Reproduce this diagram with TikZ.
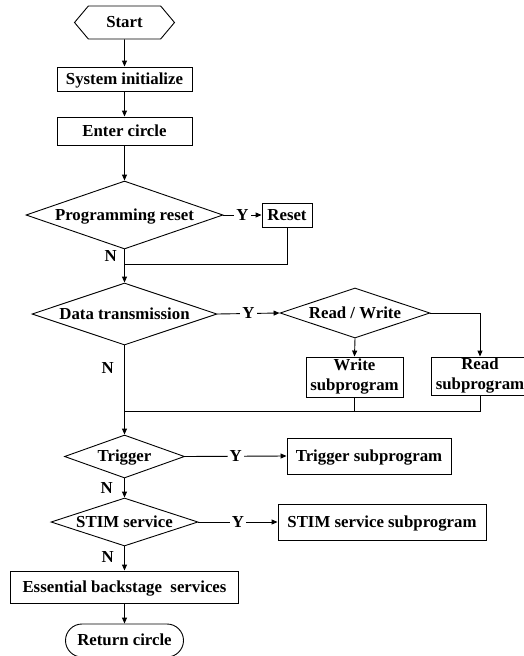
\documentclass[tikz,border=0pt]{standalone}
\usepackage{fontspec}
\setmainfont{Liberation Serif}
\usetikzlibrary{shapes.geometric,shapes.symbols,shapes.misc,arrows.meta}
\begin{document}
\begin{tikzpicture}[x=1pt,y=-1pt,
  every node/.style={font=\fontsize{16.8}{20}\selectfont\bfseries, inner sep=0pt},
  tl/.style={text height=11pt, text depth=0.5pt},
  box/.style={draw, line width=0.9pt, rectangle, tl},
  box2/.style={draw, line width=0.9pt, rectangle, align=center},
  dia/.style={draw, line width=0.9pt, diamond, tl},
  hexa/.style={draw, line width=0.9pt, signal, signal to=west and east, signal pointer angle=100, tl},
  stad/.style={draw, line width=0.9pt, rounded rectangle, tl},
  conn/.style={line width=0.9pt},
  arr/.style={line width=0.9pt, -{Triangle[length=6pt,width=5pt]}},
  lab/.style={fill=white, inner xsep=2pt, tl},
  nlab/.style={anchor=east, tl}
]
\useasboundingbox (0,0) rectangle (523,656);
\node[hexa, minimum width=100pt, minimum height=33pt] (start) at (124.5,22.5) {Start};
\node[box, minimum width=135pt, minimum height=24pt] (sys) at (124.5,79) {System initialize};
\node[box, minimum width=135pt, minimum height=28pt] (enter) at (124.5,131) {Enter circle};
\node[dia, minimum width=197pt, minimum height=68pt, aspect=2.9] (prog) at (124.5,215) {Programming reset};
\node[box, minimum width=50pt, minimum height=24pt] (reset) at (287,215) {Reset};
\node[dia, minimum width=185pt, minimum height=62pt, aspect=3] (data) at (124.5,314) {Data transmission};
\node[dia, minimum width=150pt, minimum height=50pt, aspect=3] (rw) at (355,313) {Read / Write};
\node[box2, minimum width=97pt, minimum height=40pt] (write) at (354.5,377) {Write\\subprogram};
\node[box2, minimum width=98pt, minimum height=38pt] (read) at (480,376) {Read\\subprogram};
\node[dia, minimum width=120pt, minimum height=43pt, aspect=2.8] (trig) at (124.5,456.5) {Trigger};
\node[box, minimum width=164pt, minimum height=36pt] (trigsub) at (369,456) {Trigger subprogram};
\node[dia, minimum width=147pt, minimum height=48pt, aspect=3.06] (stim) at (124.5,522) {STIM service};
\node[box, minimum width=208pt, minimum height=36pt] (stimsub) at (382,522) {STIM service subprogram};
\node[box, minimum width=228pt, minimum height=32pt] (ess) at (124.5,587) {Essential backstage~~services};
\node[stad, minimum width=118pt, minimum height=33pt] (ret) at (124.5,640.5) {Return circle};
\coordinate (m1) at (124.5,264);
\coordinate (m2) at (124.5,411);
\draw[arr] (start) -- (sys);
\draw[arr] (sys) -- (enter);
\draw[arr] (enter) -- (prog);
\draw[arr] (prog.east) -- node[lab] {Y} (reset.west);
\draw[conn] (reset.south) |- (m1);
\draw[arr] (prog.south) -- (data.north);
\node[nlab] (n1) at (117,256) {N};
\draw[arr] (data.east) -- node[lab] {Y} (rw.west);
\draw[arr] (rw.south) -- (write.north);
\draw[arr] (rw.east) -| (read.north);
\draw[arr] (data.south) -- (trig.north);
\node[nlab] (n2) at (114,368) {N};
\draw[conn] (read.south) |- (m2);
\draw[conn] (write.south) -- (write.south |- m2);
\draw[arr] (trig.east) -- node[lab] {Y} (trigsub.west);
\draw[arr] (trig.south) -- (stim.north);
\node[nlab] (n3) at (113,488) {N};
\draw[arr] (stim.east) -- node[lab] {Y} (stimsub.west);
\draw[arr] (stim.south) -- (ess.north);
\node[nlab] (n4) at (114,557) {N};
\draw[arr] (ess.south) -- (ret.north);
\end{tikzpicture}
\end{document}
